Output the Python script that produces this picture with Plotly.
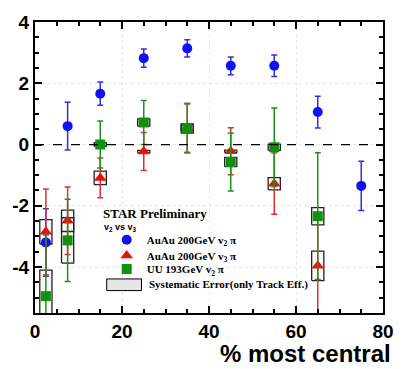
import plotly.graph_objects as go

# ---------------- data ----------------
cent_blue = [2.5, 7.5, 15, 25, 35, 45, 55, 65, 75]
v2_auau = [-3.2, 0.6, 1.66, 2.82, 3.14, 2.57, 2.57, 1.06, -1.35]
v2_auau_err = [1.1, 0.78, 0.38, 0.3, 0.28, 0.29, 0.35, 0.52, 0.8]

cent_red = [2.5, 7.5, 15, 25, 35, 45, 55, 65]
v3_auau = [-2.85, -2.49, -1.09, -0.23, 0.55, -0.22, -1.28, -3.96]
v3_auau_err = [1.4, 1.1, 0.65, 0.62, 0.8, 0.77, 1.0, 1.6]
v3_auau_sys = [0.4, 0.35, 0.22, 0.04, 0.1, 0.04, 0.2, 0.48]

cent_green = [2.5, 7.5, 15, 25, 35, 45, 55, 65]
v2_uu = [-4.95, -3.13, 0.0, 0.72, 0.52, -0.57, -0.09, -2.34]
v2_uu_err = [2.0, 1.34, 0.77, 0.72, 0.8, 0.95, 1.28, 2.07]
v2_uu_sys = [0.85, 0.74, 0.06, 0.12, 0.15, 0.15, 0.1, 0.28]

box_halfwidth = 1.4

x_ticks = [0, 20, 40, 60, 80]
y_ticks = [-4, -2, 0, 2, 4]

# ---------------- figure ----------------
fig = go.Figure()

# systematic boxes as closed rectangles
bx, by = [], []
for xs, ys, ss in [(cent_red, v3_auau, v3_auau_sys), (cent_green, v2_uu, v2_uu_sys)]:
    for x, y, s in zip(xs, ys, ss):
        bx += [x - box_halfwidth, x + box_halfwidth, x + box_halfwidth, x - box_halfwidth, x - box_halfwidth, None]
        by += [y - s, y - s, y + s, y + s, y - s, None]

fig.add_trace(go.Scatter(x=bx, y=by, mode="lines", fill="toself",
                         fillcolor="rgba(225,225,225,0.2)",
                         line=dict(color="#222222", width=1.3),
                         showlegend=False, hoverinfo="skip"))

legend_font = dict(family="Liberation Serif", size=11, color="black", weight="bold")

fig.add_trace(go.Scatter(x=cent_blue, y=v2_auau, mode="markers",
                         marker=dict(symbol="circle", size=10, color="#1010f5"),
                         error_y=dict(type="data", array=v2_auau_err, color="#3030e0", thickness=1.5, width=3),
                         name="AuAu 200GeV v<sub>2</sub> π", legend="legend"))

fig.add_trace(go.Scatter(x=cent_red, y=v3_auau, mode="markers",
                         marker=dict(symbol="triangle-up", size=11, color="#e81010"),
                         error_y=dict(type="data", array=v3_auau_err, color="#e03030", thickness=1.5, width=3),
                         name="AuAu 200GeV v<sub>3</sub> π", legend="legend2"))

fig.add_trace(go.Scatter(x=cent_green, y=v2_uu, mode="markers",
                         marker=dict(symbol="square", size=10, color="#109010"),
                         error_y=dict(type="data", array=v2_uu_err, color="#209020", thickness=1.5, width=3),
                         name="UU 193GeV v<sub>2</sub> π", legend="legend3"))

# dashed zero line
fig.add_hline(y=0, line=dict(color="black", width=1.2, dash="dash"))

axis_common = dict(
    showline=True, linecolor="black", linewidth=2, mirror="allticks",
    ticks="inside", ticklen=7, tickwidth=1.5, tickcolor="black",
    showgrid=True, gridcolor="rgba(205,205,205,0.5)", griddash="dot", gridwidth=1,
    zeroline=False,
    tickfont=dict(family="Liberation Sans", size=19, color="black", weight="bold"),
)

fig.update_xaxes(range=[0, 80], tickvals=x_ticks, ticktext=[str(t) for t in x_ticks],
                 minor=dict(dtick=5, ticks="inside", ticklen=4, tickcolor="black", showgrid=False),
                 **axis_common)
fig.update_yaxes(range=[-5.5, 4], tickvals=y_ticks, ticktext=[str(t) for t in y_ticks],
                 minor=dict(dtick=0.5, ticks="inside", ticklen=4, tickcolor="black", showgrid=False),
                 **axis_common)

fig.add_annotation(text="<b>% most central</b>", xref="paper", yref="paper",
                   x=1.03, y=-0.138, xanchor="right", yanchor="middle", showarrow=False,
                   font=dict(family="Liberation Sans", size=24, color="black"))

# legend header texts
fig.add_annotation(text="<b>STAR Preliminary</b>", xref="paper", yref="paper",
                   x=0.19, y=0.342, xanchor="left", yanchor="middle", showarrow=False,
                   font=dict(family="Liberation Serif", size=13, color="black"))
fig.add_annotation(text="<b>v<sub>2</sub> vs v<sub>3</sub></b>", xref="paper", yref="paper",
                   x=0.192, y=0.295, xanchor="left", yanchor="middle", showarrow=False,
                   font=dict(family="Liberation Sans", size=9, color="black"))

# systematic error key
fig.add_shape(type="rect", xref="paper", yref="paper", x0=0.206, x1=0.306, y0=0.077, y1=0.117,
              fillcolor="#e6e6e6", line=dict(color="black", width=1))
fig.add_annotation(text="Systematic Error(only Track Eff.)", xref="paper", yref="paper",
                   x=0.322, y=0.097, xanchor="left", yanchor="middle", showarrow=False,
                   font=legend_font)

def leg(ypos):
    return dict(x=0.206, y=ypos, xanchor="left", yanchor="middle", bgcolor="rgba(0,0,0,0)",
                font=legend_font, itemwidth=30)

fig.update_layout(
    width=406, height=369,
    margin=dict(l=33, r=14, t=15, b=56),
    paper_bgcolor="white", plot_bgcolor="white",
    showlegend=True,
    legend=leg(0.252),
    legend2=leg(0.198),
    legend3=leg(0.151),
)

fig.write_html("out.html")
